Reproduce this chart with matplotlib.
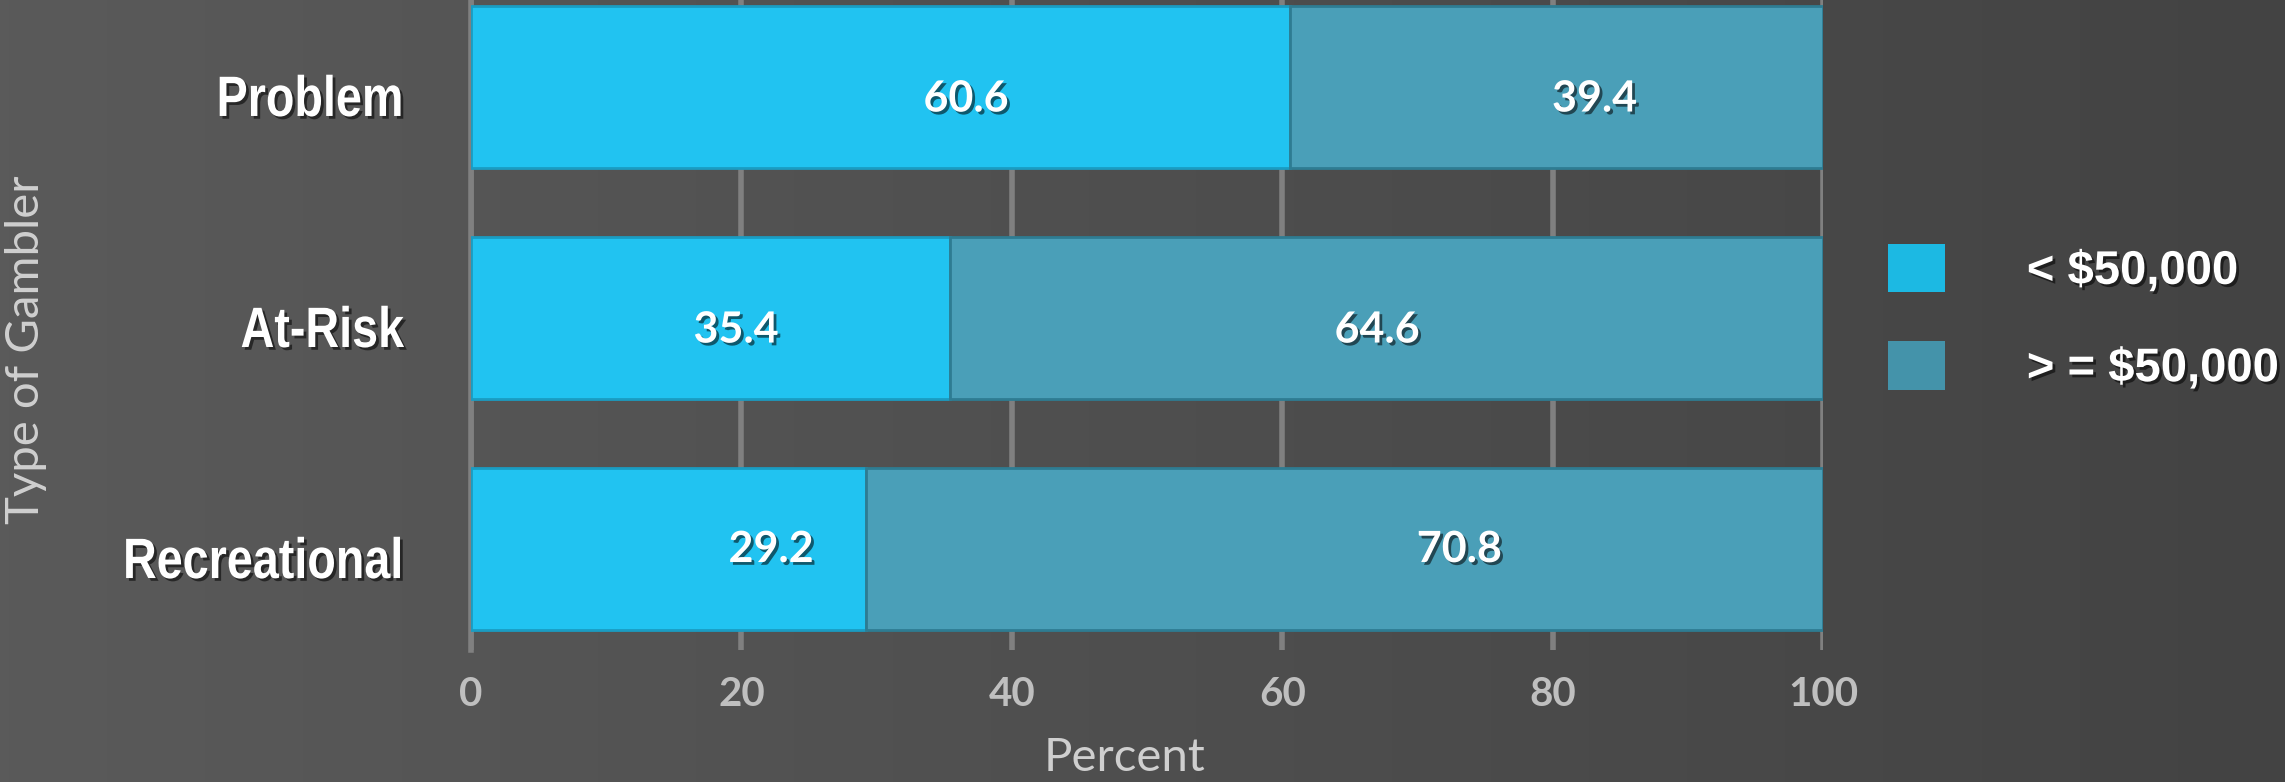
import numpy as np
import matplotlib
matplotlib.use("Agg")
import matplotlib.pyplot as plt
import matplotlib.patheffects as pe
from matplotlib.patches import Patch
from matplotlib import transforms
from matplotlib.transforms import Affine2D
from matplotlib.colors import LinearSegmentedColormap

# ---- data ----
categories = ["Recreational", "At-Risk", "Problem"]
under_50k = [29.2, 35.4, 60.6]
over_50k = [70.8, 64.6, 39.4]
series_names = ["< $50,000", "> = $50,000"]
xticks = [0, 20, 40, 60, 80, 100]

# ---- layout / style ----
label_shift_under = [7.6, 1.9, 6.3]   # label shift from segment centre (as in reference)
label_shift_over = [8.5, -0.7, 2.8]
label_dy = [0.0, -0.05, -0.05]
c_light = "#21C3F1"
c_dark = "#4A9FB8"
leg_light = "#1CB9E3"
leg_dark = "#4493AA"
grid_c = "#808080"


class CondensedShadow(pe.AbstractPathEffect):
    """Draw text horizontally condensed about its right edge, with a drop shadow."""
    def __init__(self, sx=0.82, offset=(2, -2), alpha=0.55):
        super().__init__()
        self.sx = sx
        self.shadow = pe.SimplePatchShadow(offset=offset, shadow_rgbFace="black", alpha=alpha)

    def draw_path(self, renderer, gc, tpath, affine, rgbFace=None):
        xmax = tpath.vertices[:, 0].max()
        a = Affine2D().translate(-xmax, 0).scale(self.sx, 1).translate(xmax, 0) + affine
        self.shadow.draw_path(renderer, gc, tpath, a, rgbFace)
        renderer.draw_path(gc, tpath, a, rgbFace)


W, H = 2285, 782
fig = plt.figure(figsize=(W / 100, H / 100), dpi=100)

# background gradient
bg = fig.add_axes([0, 0, 1, 1], zorder=0)
grad = np.linspace(0, 1, 256)[None, :]
cmap = LinearSegmentedColormap.from_list("bg", ["#5A5A5A", "#434343"])
bg.imshow(grad, aspect="auto", cmap=cmap, extent=[0, 1, 0, 1])
bg.set_axis_off()

ax = fig.add_axes([471 / W, 0.1688, 1352 / W, 0.8677], zorder=1)
ax.set_facecolor("none")

y = np.arange(len(categories))
shadow = [pe.withSimplePatchShadow(offset=(2, -2), shadow_rgbFace="black", alpha=0.55)]

ax.barh(y, under_50k, height=0.7, color=c_light, edgecolor="#1A9CC2", linewidth=2, zorder=3)
ax.barh(y, over_50k, left=under_50k, height=0.7, color=c_dark, edgecolor="#2E7C92", linewidth=2, zorder=3)

for i in range(len(categories)):
    ax.text(under_50k[i] / 2 + label_shift_under[i], y[i] + label_dy[i], f"{under_50k[i]:.1f}",
            ha="center", va="center", color="white", fontsize=31, fontweight="bold",
            family="Lato", zorder=5, path_effects=shadow)
    ax.text(under_50k[i] + over_50k[i] / 2 + label_shift_over[i], y[i] + label_dy[i], f"{over_50k[i]:.1f}",
            ha="center", va="center", color="white", fontsize=31, fontweight="bold",
            family="Lato", zorder=5, path_effects=shadow)

ax.set_xlim(0, 100)
ax.set_ylim(-0.437, 2.5)
ax.set_xticks(xticks)
ax.set_xticklabels([str(t) for t in xticks], fontsize=29, fontweight="bold",
                   color="#BFBFBF", family="Lato")
ax.set_yticks(y)
ax.set_yticklabels(categories, fontsize=41, fontweight="bold", color="white",
                   family="Liberation Sans")
ax.tick_params(axis="x", length=0, pad=19)
ax.tick_params(axis="y", length=0, pad=48)
off = transforms.ScaledTranslation(0, -8 / 100, fig.dpi_scale_trans)
for lab in ax.get_yticklabels():
    lab.set_transform(lab.get_transform() + off)
    lab.set_path_effects([CondensedShadow(0.82)])

ax.set_axisbelow(True)
ax.xaxis.grid(True, color=grid_c, linewidth=4)
ax.yaxis.grid(False)
for s in ["top", "right", "bottom"]:
    ax.spines[s].set_visible(False)
ax.spines["left"].set_color(grid_c)
ax.spines["left"].set_linewidth(4)

fig.text(1125 / W, 1 - 758 / H, "Percent", ha="center", va="center",
         fontsize=34, color="#CFCFCF", family="Lato")
fig.text(26 / W, 1 - 350 / H, "Type of Gambler", ha="center", va="center",
         rotation=90, fontsize=34, color="#CFCFCF", family="Lato")

handles = [Patch(facecolor=leg_light, edgecolor="none"),
           Patch(facecolor=leg_dark, edgecolor="none")]
leg = fig.legend(handles, series_names, loc="center left",
                 bbox_to_anchor=(1888 / W, 1 - 317.5 / H), frameon=False,
                 prop={"family": "Liberation Sans", "weight": "bold", "size": 34},
                 labelcolor="white", handlelength=1.2, handleheight=1.2,
                 handletextpad=1.74, labelspacing=1.0, borderpad=0, borderaxespad=0)
for t in leg.get_texts():
    t.set_path_effects(shadow)

fig.savefig("out.png", dpi=100)
